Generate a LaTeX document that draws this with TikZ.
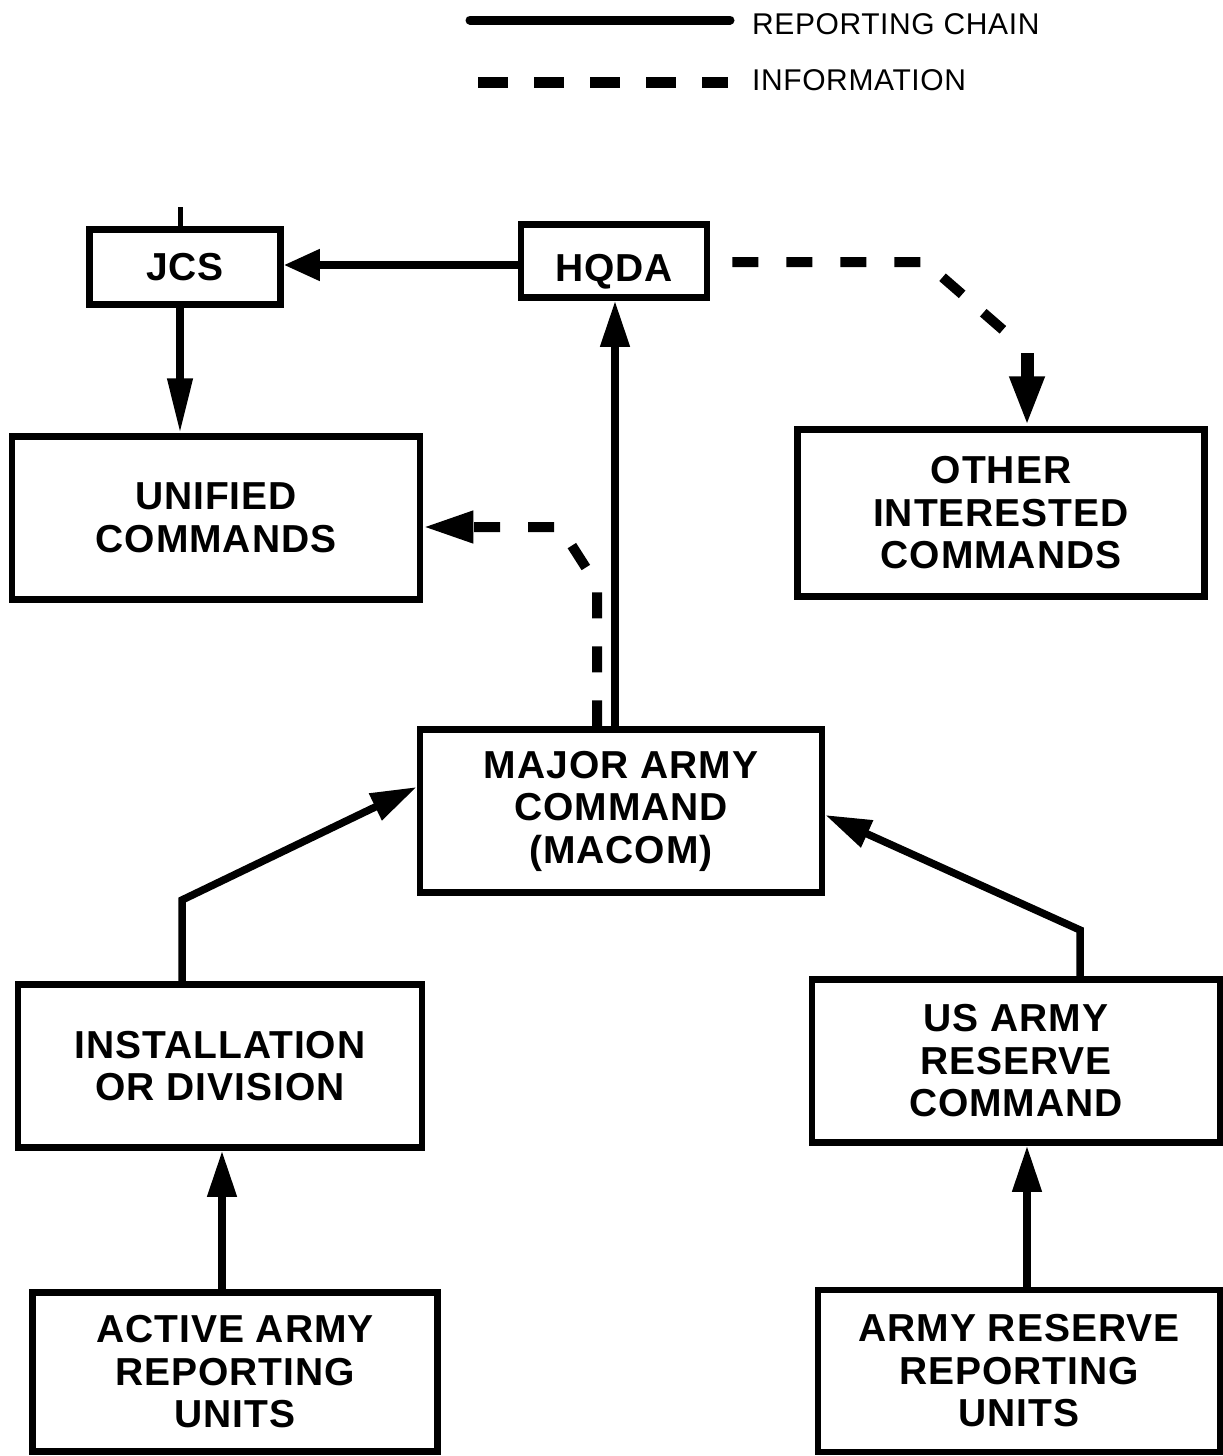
\documentclass[tikz,border=0pt]{standalone}
\usepackage{fontspec}
\setmainfont{Liberation Sans}
\newfontfamily\boxfont[LetterSpace=2.5]{Liberation Sans}
\newfontfamily\legfont[LetterSpace=2]{Liberation Sans}
\usetikzlibrary{arrows.meta}
\begin{document}
\begin{tikzpicture}[x=1pt,y=-1pt,
  box/.style={draw,line width=6.5pt,align=center,inner sep=0pt,
    font=\boxfont\fontsize{39}{42.5}\selectfont\bfseries},
  chain/.style={line width=7.5pt,-{Triangle[length=46pt,width=28pt]}},
  info/.style={line width=10pt,dash pattern=on 26pt off 28pt},
  legtxt/.style={anchor=west,inner sep=0pt,font=\legfont\fontsize{30}{34}\selectfont}]
\useasboundingbox[fill=white] (0,0) rectangle (1223,1456);

% legend
\coordinate (l1a) at (470,20); \coordinate (l1b) at (730,20);
\coordinate (l2a) at (478,82); \coordinate (l2b) at (728,82);
\draw[line width=9pt,line cap=round] (l1a) -- (l1b);
\draw[line width=11pt,dash pattern=on 30pt off 26pt] (l2a) -- (l2b);
\node[legtxt] (lrc) at (752,24) {REPORTING CHAIN};
\node[legtxt] (linf) at (752,80) {INFORMATION};

% boxes
\node[box,minimum width=191pt,minimum height=75pt] (jcs) at (185,267) {JCS};
\node[box,minimum width=186pt,minimum height=73pt] (hqda) at (614,261) {\raisebox{-6pt}[28pt][0pt]{HQDA}};
\node[box,minimum width=408pt,minimum height=163pt] (uni) at (216,518) {UNIFIED\\COMMANDS};
\node[box,minimum width=407pt,minimum height=167pt] (oth) at (1001,513) {OTHER\\INTERESTED\\COMMANDS};
\node[box,minimum width=402pt,minimum height=163pt] (macom) at (621,811) {MAJOR ARMY\\COMMAND\\(MACOM)};
\node[box,minimum width=404pt,minimum height=163pt] (inst) at (220,1066) {INSTALLATION\\OR DIVISION};
\node[box,minimum width=408pt,minimum height=163pt] (usar) at (1016,1061) {US ARMY\\RESERVE\\COMMAND};
\node[box,minimum width=405pt,minimum height=159pt] (act) at (235,1372) {ACTIVE ARMY\\REPORTING\\UNITS};
\node[box,minimum width=402pt,minimum height=162pt] (ares) at (1019,1371) {ARMY RESERVE\\REPORTING\\UNITS};

% reporting chain
\coordinate (jtop) at (180,207);
\draw[line width=5pt] (jcs.north -| jtop) -- (jtop);
\draw[line width=7.5pt,-{Triangle[length=36pt,width=30pt]}] (hqda.west |- 0,265) -- (jcs.east |- 0,265);
\draw[chain,-{Triangle[length=55pt,width=24pt]}] (jcs.south -| jtop) -- (uni.north -| jtop);
\draw[chain] (macom.north -| 615,0) -- (hqda.south -| 615,0);
\coordinate (ib) at (182,900);
\draw[chain] (inst.north -| ib) -- (ib) -- (macom.west |- 0,787);
\coordinate (ub) at (1080,930);
\draw[chain] (usar.north -| ub) -- (ub) -- (macom.east |- 0,815);
\draw[chain] (act.north -| 222,0) -- (inst.south -| 222,0);
\draw[chain] (ares.north -| 1027,0) -- (usar.south -| 1027,0);

% information
\coordinate (h1) at (925,262); \coordinate (h2) at (1010,336); \coordinate (h3) at (1027,353);
\draw[info] (hqda.east |- h1) ++(22,0) -- (h1) -- (h2);
\draw[line width=13pt,-{Triangle[length=50pt,width=32pt]}] (h3) -- (oth.north -| h3);
\coordinate (m1) at (597,585); \coordinate (m2) at (560,527);
\draw[info,-{Triangle[length=50pt,width=30pt]}] (macom.north -| m1) -- (m1) -- (m2) -- (uni.east |- m2);
\end{tikzpicture}
\end{document}
